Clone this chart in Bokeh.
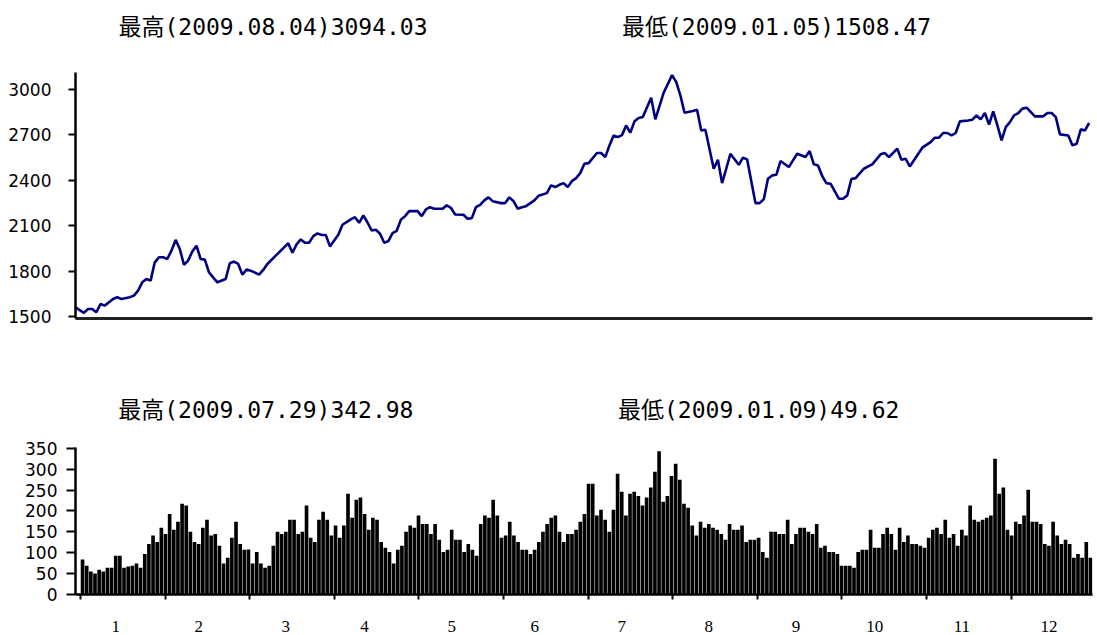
from bokeh.plotting import figure
from bokeh.layouts import column
from bokeh.models import Range1d, FixedTicker
from bokeh.core.properties import value
from bokeh.embed import file_html
from bokeh.resources import INLINE

# ---- data ----
# closing index, sampled at trading-day indices (0 = 2009-01-05)
close_day = [0, 2, 3, 4, 5, 6, 7, 9, 10, 11, 13, 14, 15, 16, 17, 18, 19, 20, 21, 22,
             23, 24, 25, 26, 27, 28, 29, 30, 31, 32, 34, 36, 37, 38, 39, 40, 41, 42, 44, 45,
             46, 48, 50, 51, 52, 53, 54, 55, 56, 57, 58, 59, 60, 61, 63, 64, 66, 67, 68, 69,
             70, 71, 72, 73, 74, 75, 76, 77, 78, 79, 80, 82, 83, 84, 85, 86, 88, 89, 90, 91,
             93, 94, 95, 96, 97, 98, 99, 100, 102, 103, 104, 105, 106, 107, 108, 110, 111, 113, 114, 115,
             116, 117, 118, 119, 120, 121, 122, 123, 125, 126, 127, 128, 129, 130, 131, 132, 133, 134, 135, 136,
             138, 139, 141, 143, 144, 145, 146, 148, 149, 150, 151, 153, 154, 155, 156, 157, 159, 160, 161, 163,
             164, 165, 166, 167, 168, 169, 171, 172, 173, 175, 176, 177, 178, 179, 180, 181, 183, 184, 185, 186,
             187, 189, 190, 191, 193, 194, 195, 197, 198, 199, 200, 203, 205, 206, 207, 208, 209, 210, 211, 212,
             214, 215, 216, 217, 218, 219, 220, 221, 222, 223, 224, 225, 226, 227, 228, 230, 232, 233, 234, 235,
             236, 238, 239, 240, 241, 242, 243]
close_val = [1561, 1524, 1550, 1550, 1528, 1583, 1572, 1616, 1627, 1616, 1627, 1638, 1671, 1726, 1748, 1737, 1858, 1891, 1891, 1880,
             1935, 2006, 1946, 1842, 1869, 1930, 1968, 1880, 1876, 1792, 1726, 1748, 1852, 1863, 1847, 1777, 1810, 1803, 1777, 1808,
             1847, 1902, 1957, 1984, 1921, 1976, 2009, 1987, 1987, 2031, 2049, 2038, 2038, 1963, 2040, 2106, 2141, 2156, 2119, 2168,
             2121, 2068, 2073, 2047, 1987, 1998, 2051, 2066, 2139, 2163, 2196, 2196, 2163, 2207, 2222, 2212, 2212, 2234, 2218, 2174,
             2172, 2146, 2150, 2222, 2238, 2267, 2287, 2262, 2249, 2249, 2287, 2262, 2212, 2222, 2229, 2267, 2297, 2315, 2366, 2355,
             2370, 2381, 2355, 2394, 2414, 2447, 2509, 2513, 2580, 2580, 2553, 2630, 2696, 2685, 2698, 2762, 2714, 2789, 2811, 2817,
             2945, 2802, 2978, 3094, 3049, 2961, 2846, 2857, 2866, 2729, 2734, 2476, 2535, 2381, 2476, 2575, 2502, 2549, 2538, 2249,
             2249, 2275, 2410, 2432, 2436, 2527, 2487, 2531, 2575, 2553, 2593, 2505, 2498, 2428, 2381, 2377, 2278, 2278, 2300, 2408,
             2414, 2476, 2491, 2505, 2571, 2580, 2553, 2608, 2535, 2542, 2491, 2615, 2652, 2681, 2681, 2712, 2712, 2696, 2712, 2789,
             2795, 2800, 2828, 2802, 2844, 2767, 2855, 2762, 2663, 2751, 2784, 2828, 2844, 2873, 2879, 2822, 2822, 2844, 2844, 2817,
             2703, 2696, 2630, 2641, 2736, 2729, 2778]

# daily volume, one value per trading day (244 days)
volume = [84, 69, 55, 50, 59, 55, 64, 64, 93, 93, 64, 67, 69, 74, 64, 97, 121, 141, 126, 160,
          145, 193, 155, 174, 217, 213, 150, 126, 121, 160, 179, 141, 145, 117, 74, 88, 136, 174, 121, 107,
          108, 74, 102, 74, 64, 69, 117, 150, 145, 150, 179, 179, 145, 150, 213, 136, 126, 179, 198, 179,
          141, 165, 136, 165, 241, 184, 227, 232, 193, 155, 184, 179, 126, 112, 102, 74, 107, 117, 150, 165,
          160, 189, 169, 169, 145, 169, 131, 102, 107, 155, 131, 131, 102, 121, 107, 93, 169, 189, 184, 227,
          189, 136, 141, 174, 141, 126, 107, 107, 97, 107, 126, 150, 169, 184, 189, 150, 126, 145, 145, 155,
          174, 193, 265, 265, 189, 203, 179, 150, 203, 289, 246, 189, 241, 246, 236, 213, 232, 256, 294, 343,
          222, 236, 284, 313, 275, 217, 208, 165, 141, 174, 160, 169, 160, 155, 145, 131, 169, 155, 155, 165,
          126, 131, 131, 136, 102, 88, 150, 150, 145, 145, 179, 121, 145, 160, 160, 150, 145, 169, 112, 117,
          102, 102, 97, 69, 69, 69, 64, 102, 107, 107, 155, 112, 112, 145, 160, 145, 107, 160, 126, 141,
          121, 121, 117, 112, 136, 155, 160, 145, 179, 136, 145, 117, 155, 141, 213, 179, 174, 179, 184, 189,
          325, 241, 256, 155, 141, 174, 169, 189, 251, 174, 174, 169, 121, 117, 174, 141, 121, 131, 121, 88,
          97, 88, 126, 88]

month_labels = ["1", "2", "3", "4", "5", "6", "7", "8", "9", "10", "11", "12"]
close_ticks = [1500, 1800, 2100, 2400, 2700, 3000]
vol_ticks = [0, 50, 100, 150, 200, 250, 300, 350]

close_titles = ["最高(2009.08.04)3094.03", "最低(2009.01.05)1508.47"]
vol_titles = ["最高(2009.07.29)342.98", "最低(2009.01.09)49.62"]

FONT_MONO = "DejaVu Sans Mono, Noto Sans CJK JP"
AXIS_FONT = "DejaVu Sans"

# ---- top: closing index ----
CLOSE_LO, CLOSE_HI = 1487, 3112
top = figure(width=1097, height=380, output_backend="svg", toolbar_location=None, title=None,
             x_range=Range1d(0, 243.8), y_range=Range1d(CLOSE_LO, 3587),
             min_border_left=75, min_border_right=5, min_border_top=0, min_border_bottom=62)
top.outline_line_color = None
top.xgrid.visible = False
top.ygrid.visible = False

top.line(close_day, close_val, line_color="#000080", line_width=2.6)

ya = top.yaxis[0]
ya.ticker = FixedTicker(ticks=close_ticks)
ya.bounds = (CLOSE_LO, CLOSE_HI)
ya.axis_line_width = 2.5
ya.axis_line_color = "black"
ya.major_tick_out = 7
ya.major_tick_in = 0
ya.major_tick_line_width = 2
ya.minor_tick_line_color = None
ya.major_label_text_font = AXIS_FONT
ya.major_label_text_font_size = "17px"
ya.major_label_text_color = "black"
ya.major_label_standoff = 17

xa = top.xaxis[0]
xa.ticker = FixedTicker(ticks=[])
xa.axis_line_width = 3
xa.axis_line_color = "#222222"
xa.major_tick_line_color = None
xa.minor_tick_line_color = None
xa.major_label_text_font_size = "0px"

top.text(x=[10.3, 131.0], y=[3409, 3409], text=close_titles,
         text_font=value(FONT_MONO), text_font_size="23px",
         text_baseline="middle", text_align="left", text_color="black")

# ---- bottom: volume ----
VOL_HI = 352
bot = figure(width=1097, height=257, output_backend="svg", toolbar_location=None, title=None,
             x_range=Range1d(-1.7, 243.5), y_range=Range1d(0, 512.4),
             min_border_left=75, min_border_right=0, min_border_top=0, min_border_bottom=43)
bot.outline_line_color = None
bot.xgrid.visible = False
bot.ygrid.visible = False

bot.vbar(x=list(range(len(volume))), top=volume, width=0.88, fill_color="black", line_color=None)

yb = bot.yaxis[0]
yb.ticker = FixedTicker(ticks=vol_ticks)
yb.bounds = (0, VOL_HI)
yb.axis_line_width = 2.5
yb.axis_line_color = "black"
yb.major_tick_out = 9
yb.major_tick_in = 0
yb.major_tick_line_width = 2
yb.minor_tick_line_color = None
yb.major_label_text_font = AXIS_FONT
yb.major_label_text_font_size = "17px"
yb.major_label_text_color = "black"
yb.major_label_standoff = 9

month_edges = [-0.5 + k * 20.4 for k in range(12)]
label_pos = [8, 28, 49, 68, 89, 109, 130, 151, 172, 191, 212, 233]
xb = bot.xaxis[0]
xb.ticker = FixedTicker(ticks=label_pos, minor_ticks=month_edges)
xb.axis_line_width = 2.5
xb.axis_line_color = "black"
xb.major_tick_line_color = None
xb.major_tick_out = 0
xb.major_tick_in = 0
xb.minor_tick_out = 5
xb.minor_tick_in = 0
xb.minor_tick_line_width = 2
xb.minor_tick_line_color = "black"
xb.major_label_overrides = {p: l for p, l in zip(label_pos, month_labels)}
xb.major_label_text_font = "Liberation Serif"
xb.major_label_text_font_size = "17px"
xb.major_label_text_color = "black"
xb.major_label_standoff = 21

bot.text(x=[8.6, 129.1], y=[440.6, 440.6], text=vol_titles,
         text_font=value(FONT_MONO), text_font_size="23px",
         text_baseline="middle", text_align="left", text_color="black")

layout = column(top, bot, spacing=0)
open("out.html", "w").write(file_html(layout, INLINE))
